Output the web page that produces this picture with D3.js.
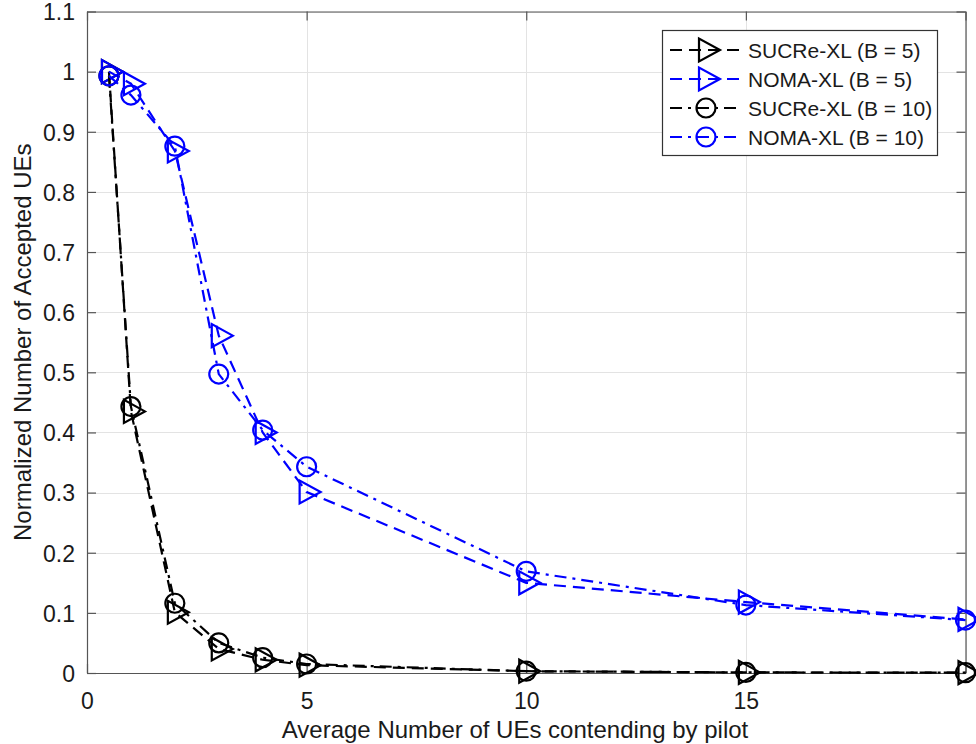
<!DOCTYPE html>
<html><head><meta charset="utf-8">
<script src="https://cdn.jsdelivr.net/npm/d3@7"></script>
<style>
body{margin:0;background:#fff}
svg{display:block}
text{font-family:"Liberation Sans",Arial,Helvetica,sans-serif;fill:#1a1a1a}
</style>
</head><body>
<svg id="chart" width="976" height="744"></svg>
<script>
// ---- data ----
const xValues  = [0.5, 1, 2, 3, 4, 5, 10, 15, 20];
const sucreB5  = [1.000, 0.435, 0.101, 0.040, 0.022, 0.013, 0.003, 0.001, 0.0005];
const nomaB5   = [1.000, 0.980, 0.868, 0.561, 0.400, 0.301, 0.150, 0.118, 0.089];
const sucreB10 = [0.993, 0.443, 0.116, 0.050, 0.0255, 0.015, 0.003, 0.001, 0.0005];
const nomaB10  = [0.993, 0.961, 0.876, 0.497, 0.404, 0.343, 0.169, 0.113, 0.088];
const seriesNames = ["SUCRe-XL (B = 5)", "NOMA-XL (B = 5)", "SUCRe-XL (B = 10)", "NOMA-XL (B = 10)"];
const xTickLabels = [0, 5, 10, 15];
const xGridValues = [0, 5, 10, 15, 20];
const yTickValues = [0, 0.1, 0.2, 0.3, 0.4, 0.5, 0.6, 0.7, 0.8, 0.9, 1, 1.1];
const xLabel = "Average Number of UEs contending by pilot";
const yLabel = "Normalized Number of Accepted UEs";

// ---- styles ----
const styles = [
  {data: sucreB5,  color: "#000000", dash: "12,7",       marker: "tri"},
  {data: nomaB5,   color: "#0000ff", dash: "12,7",       marker: "tri"},
  {data: sucreB10, color: "#000000", dash: "12,6,3,6",   marker: "circ"},
  {data: nomaB10,  color: "#0000ff", dash: "12,6,3,6",   marker: "circ"}
];

const svg = d3.select("#chart");
const L = 87, R = 965.5, T = 11.5, B = 673;
const x = d3.scaleLinear().domain([0, 20]).range([L, R]);
const y = d3.scaleLinear().domain([0, 1.1]).range([B, T]);

// grid
const grid = svg.append("g");
grid.selectAll("line.gx").data(xGridValues).enter().append("line")
  .attr("x1", d => Math.round(x(d)) + 0.5).attr("x2", d => Math.round(x(d)) + 0.5)
  .attr("y1", T).attr("y2", B).attr("stroke", "#e3e3e3").attr("stroke-width", 1);
grid.selectAll("line.gy").data(yTickValues).enter().append("line")
  .attr("y1", d => Math.round(y(d)) + 0.5).attr("y2", d => Math.round(y(d)) + 0.5)
  .attr("x1", L).attr("x2", R).attr("stroke", "#e3e3e3").attr("stroke-width", 1);

// axes
const tickLen = 9;
const axColor = "#555";
const xAxisB = d3.axisBottom(x).tickValues(xGridValues).tickSizeInner(-tickLen).tickSizeOuter(0)
  .tickFormat(d => xTickLabels.includes(d) ? d : "").tickPadding(20);
const gxb = svg.append("g").attr("transform", `translate(0,${B})`).call(xAxisB);
const xAxisT = d3.axisTop(x).tickValues(xGridValues).tickSizeInner(-tickLen).tickSizeOuter(0).tickFormat("");
const gxt = svg.append("g").attr("transform", `translate(0,${T})`).call(xAxisT);
const yAxisL = d3.axisLeft(y).tickValues(yTickValues).tickSizeInner(-tickLen).tickSizeOuter(0)
  .tickFormat(d => d3.format("")(+d.toFixed(1))).tickPadding(12);
const gyl = svg.append("g").attr("transform", `translate(${L},0)`).call(yAxisL);
const yAxisR = d3.axisRight(y).tickValues(yTickValues).tickSizeInner(-tickLen).tickSizeOuter(0).tickFormat("");
const gyr = svg.append("g").attr("transform", `translate(${R},0)`).call(yAxisR);
[gxb, gxt, gyl, gyr].forEach(g => {
  g.select(".domain").attr("stroke", axColor).attr("stroke-width", 1.2);
  g.selectAll(".tick line").attr("stroke", axColor).attr("stroke-width", 1.2);
  g.selectAll(".tick text").attr("fill", "#1a1a1a").style("font-size", "23px")
    .style("font-family", '"Liberation Sans",Arial,Helvetica,sans-serif');
});
gyl.selectAll(".tick text").attr("dy", "0.36em");

// labels
svg.append("text").attr("x", 515).attr("y", 738).attr("text-anchor", "middle")
  .style("font-size", "24px").text(xLabel);
svg.append("text").attr("transform", `translate(31,${(T + B) / 2}) rotate(-90)`)
  .attr("text-anchor", "middle").style("font-size", "24px").text(yLabel);

// marker builders
const triPath = "M-7,-11.5 L-7,11.5 L14,0 Z";
function drawMarker(g, kind, cx, cy, color) {
  if (kind === "tri") {
    g.append("path").attr("d", triPath).attr("transform", `translate(${cx},${cy})`)
      .attr("fill", "none").attr("stroke", color).attr("stroke-width", 2.2).attr("stroke-linejoin", "miter");
  } else {
    g.append("circle").attr("cx", cx).attr("cy", cy).attr("r", 9.5)
      .attr("fill", "none").attr("stroke", color).attr("stroke-width", 2.2);
  }
}

// series
const plot = svg.append("g");
const line = d3.line().x(d => x(d[0])).y(d => y(d[1]));
styles.forEach(s => {
  const pts = xValues.map((v, i) => [v, s.data[i]]);
  const g = plot.append("g");
  g.append("path").datum(pts).attr("d", line).attr("fill", "none")
    .attr("stroke", s.color).attr("stroke-width", 2.2).attr("stroke-dasharray", s.dash);
  pts.forEach(p => drawMarker(g, s.marker, x(p[0]), y(p[1]), s.color));
});

// legend
const lg = svg.append("g");
lg.append("rect").attr("x", 662.5).attr("y", 30.5).attr("width", 275).attr("height", 125)
  .attr("fill", "#fff").attr("stroke", "#333").attr("stroke-width", 1.2);
const rowY = [50, 79, 108, 137];
styles.forEach((s, i) => {
  const yy = rowY[i];
  lg.append("line").attr("x1", 670).attr("x2", 742).attr("y1", yy).attr("y2", yy)
    .attr("stroke", s.color).attr("stroke-width", 2.2).attr("stroke-dasharray", s.dash);
  drawMarker(lg, s.marker, 706, yy, s.color);
  lg.append("text").attr("x", 748).attr("y", yy + 7.5).style("font-size", "21px").text(seriesNames[i]);
});
</script>
</body></html>
